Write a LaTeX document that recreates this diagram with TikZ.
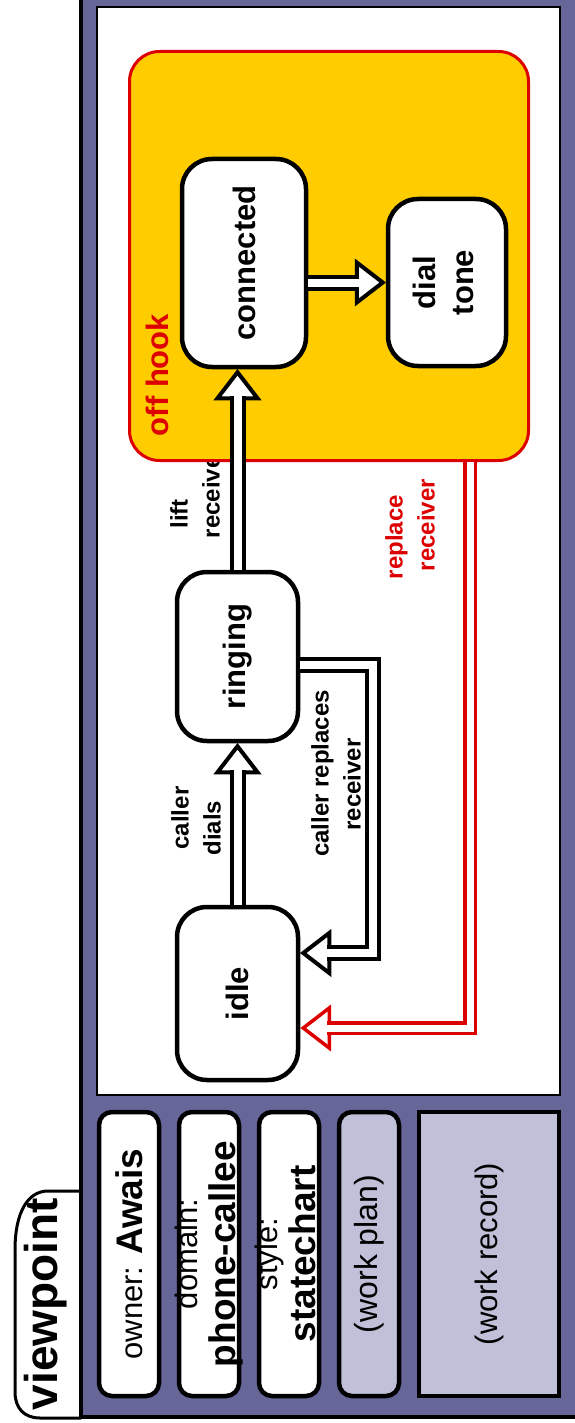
\documentclass[tikz,border=0pt]{standalone}
\usepackage{fontspec}
\setmainfont{Liberation Sans}
\usepackage{graphicx}
\usetikzlibrary{calc}
\definecolor{vpframe}{HTML}{666699}
\definecolor{vplav}{HTML}{C0C0D8}
\definecolor{vpgold}{HTML}{FFCC00}
\definecolor{vpred}{HTML}{DD0000}
\newcommand{\vtext}[1]{\makebox[0pt]{\rotatebox{90}{#1}}}
\newcommand{\fathead}[4]{% #1 colour, #2 line width, #3 tip, #4 angle
  \draw[draw=#1, line width=#2, fill=white, line join=miter, shift={(#3)}, rotate=#4]
    (-3pt,0pt) -- (-29pt,20pt) -- (-29pt,-20pt) -- cycle;}
\tikzset{
  fatshaft/.style={draw=black, line width=4pt, double=white, double distance=8pt, line join=miter},
  redshaft/.style={draw=vpred, line width=3.5pt, double=white, double distance=7pt, line join=miter},
  statebox/.style={draw=black, line width=4.5pt, fill=white, rounded corners=30pt, inner sep=0pt,
    font=\bfseries\fontsize{31}{38}\selectfont},
  infobox/.style={draw=black, line width=4.5pt, fill=white, rounded corners=13pt, inner sep=0pt,
    minimum width=60pt, minimum height=284pt, font=\fontsize{31}{36}\selectfont},
  translabel/.style={rotate=90, inner sep=0pt, align=center, font=\bfseries\fontsize{24}{32}\selectfont},
}
\begin{document}
\begin{tikzpicture}[x=1pt, y=-1pt]
\useasboundingbox (0,0) rectangle (574,1423);
% tab and frame
\draw[fill=white, line width=3pt] (81,1191) -- (48,1191) .. controls (28,1191) and (15,1212) .. (15,1250)
  -- (15,1392) .. controls (15,1408) and (24,1418) .. (40,1418) -- (81,1418);
\node[rotate=90, inner sep=0pt, font=\bfseries\fontsize{46}{50}\selectfont] (vp) at (46,1304) {viewpoint};
\draw[fill=vpframe, line width=4pt] (81,-10) rectangle (590,1416.5);
% inner panel
\draw[fill=white, line width=1.5pt] (97,7) rectangle (560,1095);
% info boxes
\node[infobox] (owner) at (129,1254) {\vtext{owner: {\bfseries\fontsize{37}{40}\selectfont Awais}}};
\node[infobox] (domain) at (209,1254) {\vtext{\begin{tabular}{@{}c@{}}domain:\\{\bfseries\fontsize{37}{36}\selectfont phone-callee}\end{tabular}}};
\node[infobox] (style) at (289,1254) {\vtext{\begin{tabular}{@{}c@{}}style:\\{\bfseries\fontsize{37}{36}\selectfont statechart}\end{tabular}}};
\node[infobox, fill=vplav] (plan) at (369,1254) {\vtext{\fontsize{32}{36}\selectfont(work plan)}};
\node[infobox, fill=vplav, rounded corners=0pt, minimum width=140pt] (record) at (489,1254) {\vtext{(work record)}};
% transition labels
\node[translabel] (ldials) at (196,818) {caller\\dials\rule{20pt}{0pt}};
\node[translabel] (llift) at (195,492) {lift\rule{44pt}{0pt}\\receiver};
\node[translabel] (lring) at (336,773.5) {caller replaces\\receiver\rule{22pt}{0pt}};
\node[translabel] (lconn) at (343,144.5) {caller replaces\\receiver\rule{23pt}{0pt}};
\node[translabel, text=vpred] (lred) at (410,525) {replace\rule{24pt}{0pt}\\receiver};
% off hook super-state
\node[draw=vpred, line width=3pt, fill=vpgold, rounded corners=30pt, inner sep=0pt,
  minimum width=399pt, minimum height=409pt] (offhook) at (329,256) {};
\node[rotate=90, inner sep=0pt, text=vpred, font=\bfseries\fontsize{31}{36}\selectfont] (offlbl) at (157,375) {off hook};
% states
\node[statebox, minimum width=121pt, minimum height=173pt] (idle) at (237.5,993.5) {\vtext{idle}};
\node[statebox, minimum width=121pt, minimum height=169pt] (ringing) at (237.5,656.5) {\vtext{ringing}};
\node[statebox, minimum width=124pt, minimum height=208pt] (connected) at (244,263) {\vtext{connected}};
\node[statebox, minimum width=118pt, minimum height=167pt] (dial) at (447,282.5) {\vtext{\begin{tabular}{@{}c@{}}dial\\tone\end{tabular}}};
% arrows
\fathead{black}{4pt}{ringing.south}{90}
\draw[fatshaft] (idle.north) -- ($(ringing.south)+(0,27)$);
\fathead{black}{4pt}{ringing.north |- connected.south}{90}
\draw[fatshaft] (ringing.north) -- ($(ringing.north |- connected.south)+(0,27)$);
\fathead{black}{4pt}{dial.west}{0}
\draw[fatshaft] (connected.east |- dial.west) -- ($(dial.west)+(-27,0)$);
\coordinate (bc1) at (373,665);
\coordinate (bc2) at (373,953);
\fathead{black}{4pt}{idle.east |- bc2}{180}
\draw[fatshaft] (ringing.east |- bc1) -- (bc1) -- (bc2) -- ($(idle.east |- bc2)+(27,0)$);
\coordinate (rc) at (470,1028);
\fathead{vpred}{3.5pt}{idle.east |- rc}{180}
\draw[redshaft] (offhook.south -| rc) -- (rc) -- ($(idle.east |- rc)+(27,0)$);
\end{tikzpicture}
\end{document}
